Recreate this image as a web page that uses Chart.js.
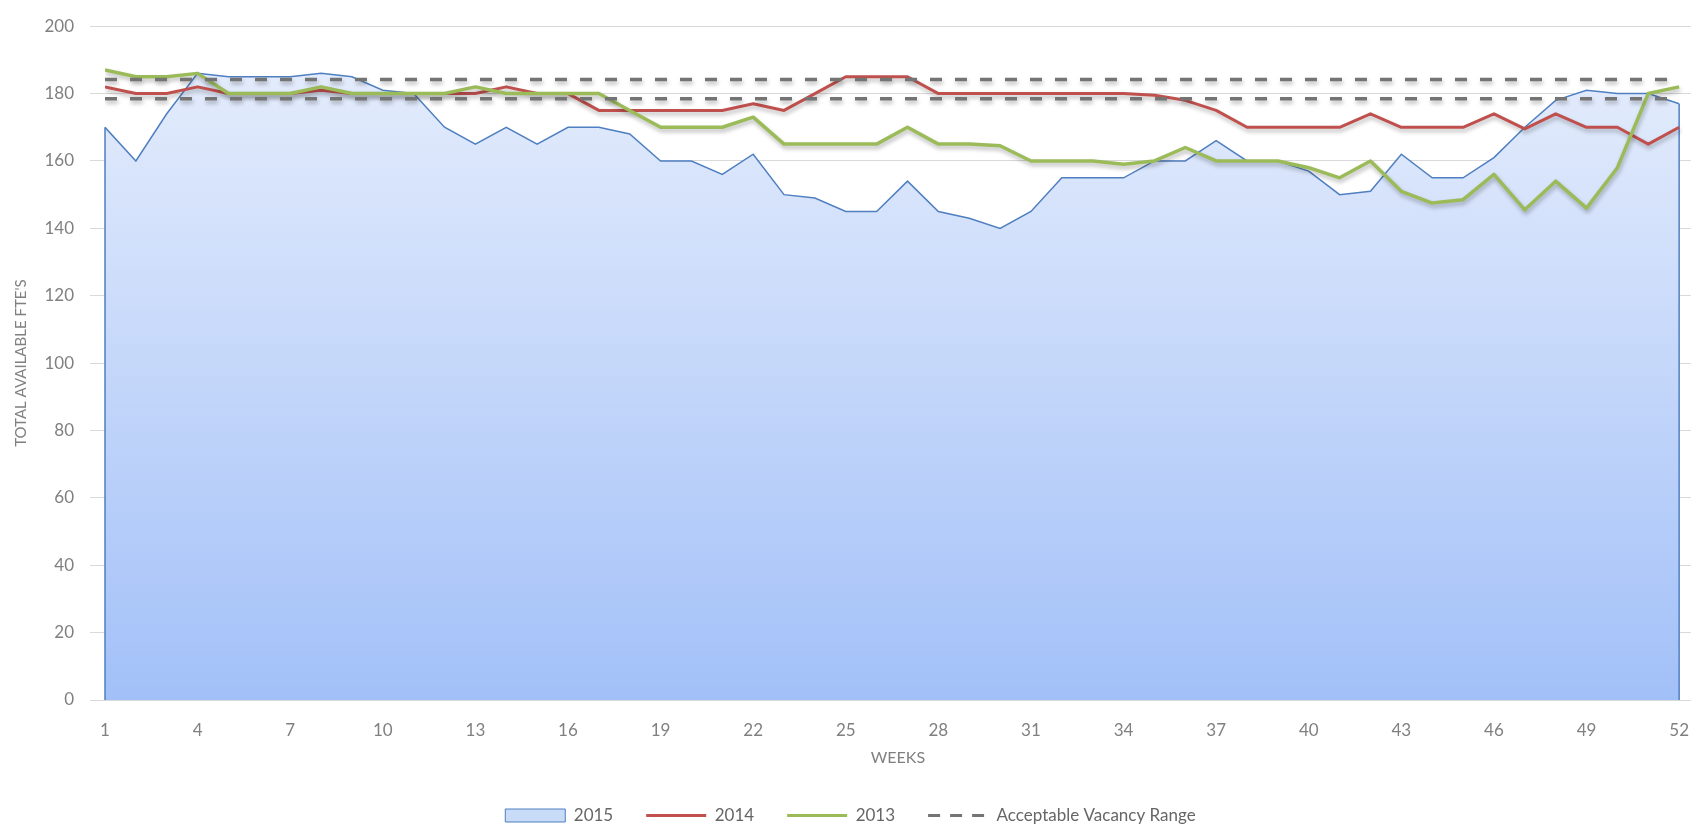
<!DOCTYPE html>
<html>
<head>
<meta charset="utf-8">
<script src="https://cdn.jsdelivr.net/npm/chart.js@4/dist/chart.umd.min.js"></script>
<style>
  html, body { margin: 0; padding: 0; background: #ffffff; }
  #c { display: block; }
</style>
</head>
<body>
<canvas id="c" width="1701" height="825"></canvas>
<script>
// Weekly available FTE counts
const weeks = Array.from({ length: 52 }, (_, i) => i + 1);

const fte2015 = [170, 160, 174, 186, 185, 185, 185, 186, 185, 181,
                 180, 170, 165, 170, 165, 170, 170, 168, 160, 160,
                 156, 162, 150, 149, 145, 145, 154, 145, 143, 140,
                 145, 155, 155, 155, 160, 160, 166, 160, 160, 157,
                 150, 151, 162, 155, 155, 161, 170, 178, 181, 180,
                 180, 177];

const fte2014 = [182, 180, 180, 182, 180, 180, 180, 181, 180, 180,
                 180, 180, 180, 182, 180, 180, 175, 175, 175, 175,
                 175, 177, 175, 180, 185, 185, 185, 180, 180, 180,
                 180, 180, 180, 180, 179.5, 178, 175, 170, 170, 170,
                 170, 174, 170, 170, 170, 174, 169.5, 174, 170, 170,
                 165, 170];

const fte2013 = [187, 185, 185, 186, 180, 180, 180, 182, 180, 180,
                 180, 180, 182, 180, 180, 180, 180, 175, 170, 170,
                 170, 173, 165, 165, 165, 165, 170, 165, 165, 164.5,
                 160, 160, 160, 159, 160, 164, 160, 160, 160, 158,
                 155, 160, 151, 147.5, 148.5, 156, 145.5, 154, 146, 158,
                 180, 182];

// Acceptable vacancy band
const rangeHigh = 184.2;
const rangeLow = 178.5;

// Week labels shown on the axis (every third week)
const weekTicks = weeks.filter((w, i) => i % 3 === 0);

const seriesPoints = vals => weeks.map((w, i) => ({ x: w, y: vals[i] }));
const flatPoints = v => weeks.map(w => ({ x: w, y: v }));

Chart.defaults.font.family = "Lato, 'Open Sans', sans-serif";

// Soft drop shadow under the line series
const lineShadow = {
  id: 'lineShadow',
  beforeDatasetDraw(chart, args) {
    if (args.index === 0) return;
    const c = chart.ctx;
    c.save();
    c.shadowColor = 'rgba(0,0,0,0.28)';
    c.shadowBlur = 4;
    c.shadowOffsetX = 1;
    c.shadowOffsetY = 3;
  },
  afterDatasetDraw(chart, args) {
    if (args.index === 0) return;
    chart.ctx.restore();
  }
};

// Closes the 2015 area outline down to the baseline at both ends
const areaEdges = {
  id: 'areaEdges',
  afterDatasetDraw(chart, args) {
    if (args.index !== 0) return;
    const pts = args.meta.data;
    if (!pts.length) return;
    const y0 = chart.scales.y.getPixelForValue(0);
    const c = chart.ctx;
    c.save();
    c.strokeStyle = '#4f7fc0';
    c.lineWidth = 1.5;
    c.beginPath();
    [pts[0], pts[pts.length - 1]].forEach(p => {
      c.moveTo(p.x, p.y);
      c.lineTo(p.x, y0);
    });
    c.stroke();
    c.restore();
  }
};

const areaFill = ctx => {
  const a = ctx.chart.chartArea;
  if (!a) return '#c5d8f8';
  const g = ctx.chart.ctx.createLinearGradient(0, a.top, 0, a.bottom);
  g.addColorStop(0, '#e8effc');
  g.addColorStop(1, '#a2c0f8');
  return g;
};

new Chart(document.getElementById('c'), {
  type: 'line',
  data: {
    datasets: [
      {
        label: '2015',
        data: seriesPoints(fte2015),
        borderColor: '#4f7fc0',
        borderWidth: 1.5,
        backgroundColor: areaFill,
        fill: 'origin',
        pointRadius: 0,
        order: 4
      },
      {
        label: '2014',
        data: seriesPoints(fte2014),
        borderColor: '#c0504d',
        borderWidth: 3,
        borderJoinStyle: 'round',
        fill: false,
        pointRadius: 0,
        order: 3
      },
      {
        label: '2013',
        data: seriesPoints(fte2013),
        borderColor: '#9bbb59',
        borderWidth: 3.5,
        borderJoinStyle: 'round',
        fill: false,
        pointRadius: 0,
        order: 2
      },
      {
        label: 'Acceptable Vacancy Range',
        data: flatPoints(rangeHigh),
        borderColor: '#747474',
        borderWidth: 3.5,
        borderDash: [12, 13],
        fill: false,
        pointRadius: 0,
        order: 1
      },
      {
        label: 'Acceptable Vacancy Range (low)',
        data: flatPoints(rangeLow),
        borderColor: '#747474',
        borderWidth: 3.5,
        borderDash: [12, 13],
        fill: false,
        pointRadius: 0,
        order: 1
      }
    ]
  },
  options: {
    responsive: false,
    animation: false,
    layout: { padding: { left: 0, right: 0, top: 19, bottom: -9 } },
    scales: {
      x: {
        type: 'linear',
        min: 1,
        max: 52.38,
        afterBuildTicks: s => { s.ticks = weekTicks.map(v => ({ value: v })); },
        afterFit: s => { s.height = 74; },
        grid: { display: false },
        border: { display: false },
        ticks: {
          color: '#808080',
          font: { size: 17 },
          padding: 12,
          maxRotation: 0,
          autoSkip: false,
          callback: v => String(v)
        },
        title: {
          display: true,
          text: 'WEEKS',
          color: '#808080',
          font: { size: 16 },
          padding: { top: 0, bottom: 7 }
        }
      },
      y: {
        min: 0,
        max: 200,
        afterFit: s => { s.width = 105; },
        grid: { color: '#d9d9d9', lineWidth: 1, tickLength: 15 },
        border: { display: false },
        ticks: {
          stepSize: 20,
          color: '#808080',
          font: { size: 17 },
          padding: 16
        },
        title: {
          display: true,
          text: "TOTAL AVAILABLE FTE'S",
          color: '#808080',
          font: { size: 15 },
          padding: { top: 12.5, bottom: 0 }
        }
      }
    },
    plugins: {
      tooltip: { enabled: false },
      legend: {
        position: 'bottom',
        labels: {
          usePointStyle: true,
          pointStyleWidth: 60,
          boxHeight: 13,
          padding: 33,
          color: '#666666',
          font: { size: 17 },
          filter: item => item.datasetIndex !== 4,
          sort: (a, b) => a.datasetIndex - b.datasetIndex,
          generateLabels: chart => {
            const items = Chart.defaults.plugins.legend.labels.generateLabels(chart);
            items.forEach(it => {
              if (it.datasetIndex === 0) {
                it.pointStyle = 'rect';
                it.fillStyle = '#c9dcf7';
                it.strokeStyle = '#4f7fc0';
                it.lineWidth = 1;
                it.lineDash = [];
              } else {
                it.pointStyle = 'line';
                it.lineWidth = 3;
                it.lineDash = it.datasetIndex >= 3 ? [12, 10] : [];
              }
            });
            return items;
          }
        }
      }
    }
  },
  plugins: [lineShadow, areaEdges]
});
</script>
</body>
</html>
